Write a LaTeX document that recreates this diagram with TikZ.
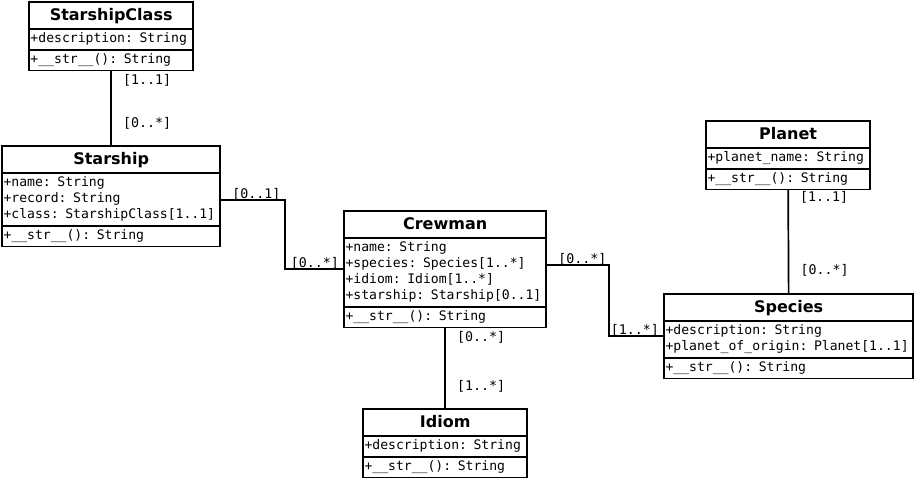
\documentclass[tikz,border=0pt]{standalone}
\usepackage{fontspec}
\setmainfont{DejaVu Sans}
\setmonofont{DejaVu Sans Mono}
\usepackage{tikz}
\usetikzlibrary{shapes.multipart}
\usetikzlibrary{positioning}

\newcommand{\umltitle}[1]{{\centering\fontsize{16}{16}\selectfont\rmfamily\bfseries\rule[-6pt]{0pt}{22.5pt}#1\par}}
\newcommand{\umlrows}[1]{\strut#1\strut}

\tikzset{
  umlclass/.style={rectangle split, rectangle split parts=3, draw, line width=1.7pt,
    inner xsep=1.5pt, inner ysep=1.5pt, outer sep=0pt, anchor=north west, align=left,
    font=\fontsize{13.1}{16}\selectfont\ttfamily},
  assoc/.style={line width=1.7pt},
  mult/.style={inner sep=0pt, outer sep=0pt, font=\fontsize{13.3}{14}\selectfont\ttfamily}
}

\begin{document}
\begin{tikzpicture}[x=1pt,y=-1pt]
\useasboundingbox (0,0) rectangle (914,478);

\node[umlclass, text width=161.3pt] (starshipclass) at (29,2)
  {\umltitle{StarshipClass}
   \nodepart{two}\umlrows{+description: String}
   \nodepart{three}\umlrows{+\_\_str\_\_(): String}};

\node[umlclass, text width=215.3pt] (starship) at (2,146)
  {\umltitle{Starship}
   \nodepart{two}\umlrows{+name: String\\+record: String\\+class: StarshipClass[1..1]}
   \nodepart{three}\umlrows{+\_\_str\_\_(): String}};

\node[umlclass, text width=199.3pt] (crewman) at (344,211)
  {\umltitle{Crewman}
   \nodepart{two}\umlrows{+name: String\\+species: Species[1..*]\\+idiom: Idiom[1..*]\\+starship: Starship[0..1]}
   \nodepart{three}\umlrows{+\_\_str\_\_(): String}};

\node[umlclass, text width=161.3pt] (idiom) at (363,409)
  {\umltitle{Idiom}
   \nodepart{two}\umlrows{+description: String}
   \nodepart{three}\umlrows{+\_\_str\_\_(): String}};

\node[umlclass, text width=161.3pt] (planet) at (706,121)
  {\umltitle{Planet}
   \nodepart{two}\umlrows{+planet\_name: String}
   \nodepart{three}\umlrows{+\_\_str\_\_(): String}};

\node[umlclass, text width=246.3pt] (species) at (664,294)
  {\umltitle{Species}
   \nodepart{two}\umlrows{+description: String\\+planet\_of\_origin: Planet[1..1]}
   \nodepart{three}\umlrows{+\_\_str\_\_(): String}};

% associations
\coordinate (starship-out) at ([yshift=-4pt]starship.east);
\coordinate (crewman-out) at ([yshift=4pt]crewman.east);

\draw[assoc] (starshipclass.south) -- (starship.north);
\draw[assoc] (starship-out) -- ++(65,0) |- (crewman.west);
\draw[assoc] (crewman-out) -- ++(63,0) |- (species.west);
\draw[assoc] (crewman.south) -- (idiom.north);
\draw[assoc] (planet.south) -- (species.north);

% multiplicities
\node[mult, below right=4pt and 12pt of starshipclass.south] (m-sc) {[1..1]};
\node[mult, above right=17pt and 12pt of starship.north] (m-ss) {[0..*]};
\node[mult, above right=0pt and 12pt of starship-out] (m-ss2) {[0..1]};
\node[mult, above left=0pt and 5pt of crewman.west] (m-cw) {[0..*]};
\node[mult, above right=0pt and 12pt of crewman-out] (m-cw2) {[0..*]};
\node[mult, above left=0pt and 5pt of species.west] (m-sp) {[1..*]};
\node[mult, below right=4pt and 12pt of crewman.south] (m-cw3) {[0..*]};
\node[mult, above right=17pt and 12pt of idiom.north] (m-id) {[1..*]};
\node[mult, below right=2pt and 12pt of planet.south] (m-pl) {[1..1]};
\node[mult, above right=18pt and 12pt of species.north] (m-sp2) {[0..*]};
\end{tikzpicture}
\end{document}
